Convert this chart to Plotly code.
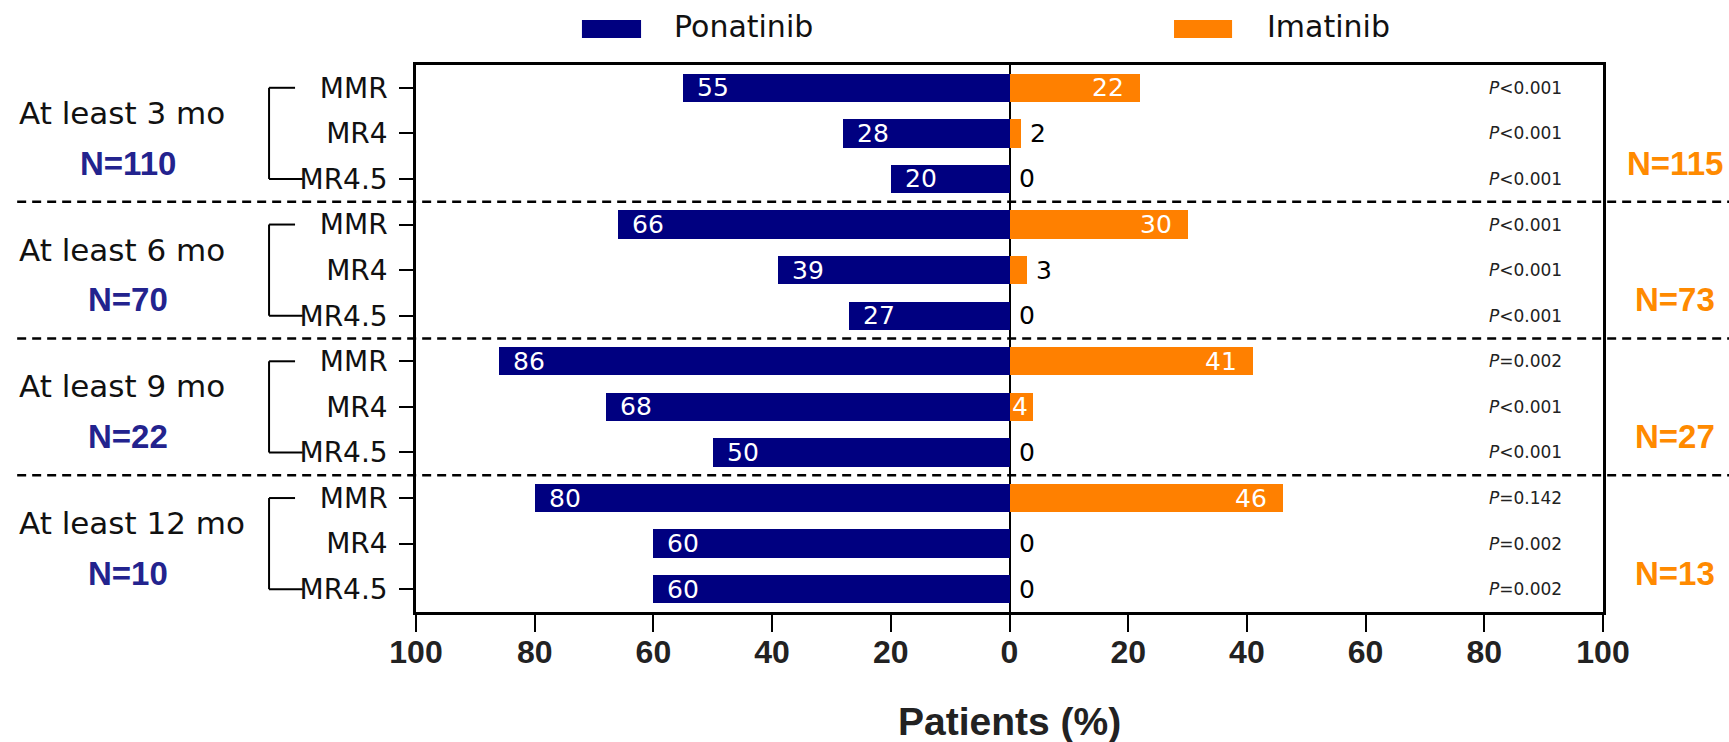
import plotly.graph_objects as go

# ---------------- data ----------------
groups = ["At least 3 mo", "At least 6 mo", "At least 9 mo", "At least 12 mo"]
measures = ["MMR", "MR4", "MR4.5"]
n_ponatinib = [110, 70, 22, 10]
n_imatinib = [115, 73, 27, 13]
ponatinib = [55, 28, 20, 66, 39, 27, 86, 68, 50, 80, 60, 60]
imatinib = [22, 2, 0, 30, 3, 0, 41, 4, 0, 46, 0, 0]
p_values = ["P<0.001", "P<0.001", "P<0.001",
            "P<0.001", "P<0.001", "P<0.001",
            "P=0.002", "P<0.001", "P<0.001",
            "P=0.142", "P=0.002", "P=0.002"]
x_ticks = [-100, -80, -60, -40, -20, 0, 20, 40, 60, 80, 100]
x_tick_labels = ["100", "80", "60", "40", "20", "0", "20", "40", "60", "80", "100"]

NAVY = "#000080"
ORANGE = "#FF8000"
N_BLUE = "#23238E"
N_ORANGE = "#FF8A00"
REG = "DejaVu Sans"
BOLD = "Liberation Sans"

rows = list(range(len(ponatinib)))
row_labels = [m for _ in groups for m in measures]

fig = go.Figure()
fig.add_trace(go.Bar(
    y=rows, x=[-v for v in ponatinib], orientation="h", width=0.62,
    marker=dict(color=NAVY, line=dict(width=0)), name="Ponatinib",
    showlegend=False, hoverinfo="skip"))
fig.add_trace(go.Bar(
    y=rows, x=imatinib, orientation="h", width=0.62,
    marker=dict(color=ORANGE, line=dict(width=0)), name="Imatinib",
    showlegend=False, hoverinfo="skip"))

ann = []
# value labels
for r, v in zip(rows, ponatinib):
    ann.append(dict(x=-v, y=r, xref="x", yref="y", text=str(v), showarrow=False,
                    xanchor="left", xshift=12, font=dict(family=REG, size=25, color="white")))
for r, v in zip(rows, imatinib):
    if v >= 4:
        ann.append(dict(x=v, y=r, xref="x", yref="y", text=str(v), showarrow=False,
                        xanchor="right", xshift=(-14 if v >= 10 else -3),
                        font=dict(family=REG, size=25, color="white")))
    else:
        ann.append(dict(x=v, y=r, xref="x", yref="y", text=str(v), showarrow=False,
                        xanchor="left", xshift=7, font=dict(family=REG, size=25, color="black")))
# p values
for r, p in zip(rows, p_values):
    txt = "<i>P</i>" + p[1:].replace("<", "&lt;")
    ann.append(dict(x=93.5, y=r, xref="x", yref="y", text=txt, showarrow=False,
                    xanchor="right", font=dict(family=REG, size=17, color="#222222")))
# group labels and N
shapes = []
for g, (name, n1, n2) in enumerate(zip(groups, n_ponatinib, n_imatinib)):
    base = g * 3
    ann.append(dict(x=-0.336, y=base + 0.55, xref="paper", yref="y", text=name, showarrow=False,
                    xanchor="left", font=dict(family=REG, size=31, color="#111111")))
    ann.append(dict(x=-0.2426, y=base + 1.65, xref="paper", yref="y", text="N=%d" % n1, showarrow=False,
                    xanchor="center", font=dict(family=BOLD, size=33, color=N_BLUE, weight="bold")))
    ann.append(dict(x=1.0607, y=base + 1.65, xref="paper", yref="y", text="N=%d" % n2, showarrow=False,
                    xanchor="center", font=dict(family=BOLD, size=33, color=N_ORANGE, weight="bold")))
    # bracket
    shapes.append(dict(type="line", xref="paper", yref="y", x0=-0.1238, x1=-0.1238,
                       y0=base, y1=base + 2, line=dict(color="black", width=2)))
    shapes.append(dict(type="line", xref="paper", yref="y", x0=-0.1238, x1=-0.1019,
                       y0=base, y1=base, line=dict(color="black", width=2)))
    shapes.append(dict(type="line", xref="paper", yref="y", x0=-0.1238, x1=-0.0955,
                       y0=base + 2, y1=base + 2, line=dict(color="black", width=2)))
    if g > 0:
        shapes.append(dict(type="line", xref="paper", yref="y", x0=-0.336, x1=1.11,
                           y0=base - 0.5, y1=base - 0.5,
                           line=dict(color="black", width=2.5, dash="9px,6px")))

# legend (manual)
shapes.append(dict(type="rect", xref="paper", yref="paper", x0=0.1398, x1=0.1896,
                   y0=1.0494, y1=1.0823, fillcolor=NAVY, line=dict(width=0)))
shapes.append(dict(type="rect", xref="paper", yref="paper", x0=0.6386, x1=0.6875,
                   y0=1.0494, y1=1.0823, fillcolor=ORANGE, line=dict(width=0)))
ann.append(dict(x=0.2157, y=1.070, xref="paper", yref="paper", text="Ponatinib", showarrow=False,
                xanchor="left", yanchor="middle", font=dict(family=REG, size=30, color="#111111")))
ann.append(dict(x=0.7153, y=1.070, xref="paper", yref="paper", text="Imatinib", showarrow=False,
                xanchor="left", yanchor="middle", font=dict(family=REG, size=30, color="#111111")))
# axis title
ann.append(dict(x=0.5, y=-0.201, xref="paper", yref="paper", text="<b>Patients (%)</b>", showarrow=False,
                xanchor="center", yanchor="middle", font=dict(family=BOLD, size=39, color="#222222")))

fig.update_layout(
    width=1729, height=742,
    margin=dict(l=416, r=126, t=65, b=130),
    paper_bgcolor="white", plot_bgcolor="white",
    barmode="overlay", bargap=0,
    shapes=shapes, annotations=ann,
    showlegend=False,
)
fig.update_xaxes(
    range=[-100, 100], tickvals=x_ticks, ticktext=x_tick_labels,
    showline=True, linecolor="black", linewidth=2.5, mirror=True,
    ticks="outside", ticklen=17, tickwidth=2, tickcolor="black",
    showgrid=False, zeroline=True, zerolinecolor="black", zerolinewidth=2,
    tickfont=dict(family=BOLD, size=32, color="#222222", weight="bold"),
    ticklabelstandoff=-7,
    fixedrange=True,
)
fig.update_yaxes(
    range=[11.5, -0.5], tickvals=rows, ticktext=row_labels,
    showline=True, linecolor="black", linewidth=2.5, mirror=True,
    ticks="outside", ticklen=14, tickwidth=2, tickcolor="black",
    showgrid=False, zeroline=False, ticklabelstandoff=6,
    tickfont=dict(family=REG, size=28, color="#111111"),
    fixedrange=True,
)

fig.write_html("out.html", config={"displayModeBar": False},
               post_script="document.body.style.margin='0';document.body.style.overflow='hidden';")
